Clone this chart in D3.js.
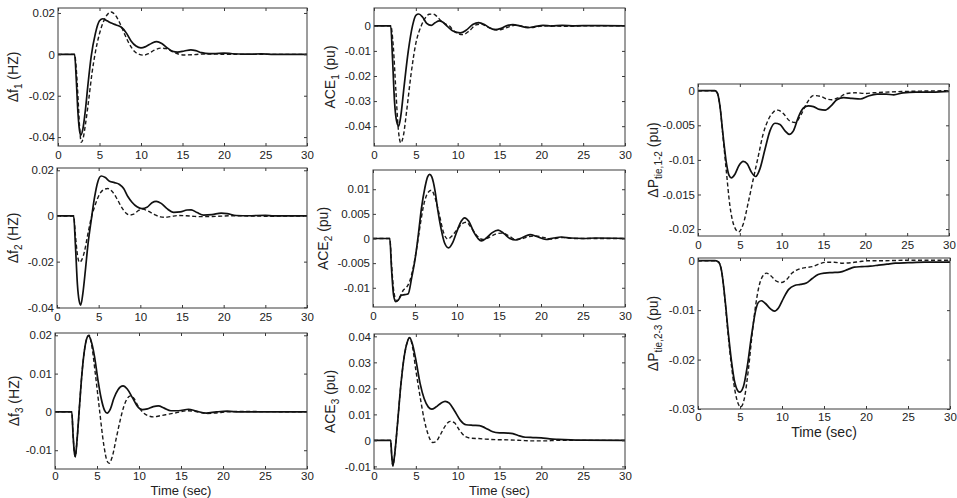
<!DOCTYPE html>
<html><head><meta charset="utf-8">
<script src="https://cdn.jsdelivr.net/npm/d3@7/dist/d3.min.js"></script>
<style>
html,body{margin:0;padding:0;background:#fff;}
text{font-family:"Liberation Sans",Arial,Helvetica,sans-serif;fill:#222;}
</style></head>
<body><svg id="chart" width="957" height="498"></svg>
<script>
// ---------- DATA (time in sec, value) ----------
const timeTicks = [0, 5, 10, 15, 20, 25, 30];

const f1Solid = [[0,0],[2,0],[2.2,-0.012],[2.4,-0.028],[2.6,-0.037],[2.75,-0.039],[3.0,-0.036],[3.3,-0.027],[3.6,-0.015],[4.0,-0.001],[4.5,0.010],[5.0,0.0162],[5.4,0.0172],[5.9,0.0162],[6.5,0.015],[7.0,0.0142],[7.6,0.0132],[8.2,0.0105],[8.8,0.0065],[9.4,0.004],[10.0,0.0031],[10.6,0.0038],[11.3,0.0054],[11.9,0.0061],[12.5,0.0052],[13.2,0.003],[13.8,0.0015],[14.4,0.0011],[15.2,0.0016],[16.0,0.0022],[16.6,0.0018],[17.3,0.0008],[18.2,0.0003],[19.0,0.0004],[20.0,0.0006],[21.0,0.0003],[22.5,0.0001],[24.5,0.0002],[26,0],[30,0]];
const f1Dashed = [[0,0],[2,0],[2.2,-0.007],[2.4,-0.02],[2.6,-0.035],[2.8,-0.0425],[3.0,-0.041],[3.3,-0.034],[3.7,-0.022],[4.1,-0.009],[4.5,0.001],[5.0,0.010],[5.5,0.016],[6.0,0.0195],[6.4,0.0205],[6.9,0.019],[7.4,0.0155],[8.0,0.01],[8.6,0.005],[9.2,0.0015],[9.8,0.0],[10.3,-0.0004],[10.9,0.0003],[11.6,0.002],[12.4,0.003],[13.0,0.0028],[13.7,0.0015],[14.4,0.0003],[15.2,-0.0003],[16.2,-0.0002],[17.2,0.0001],[18.5,0.0002],[20,0],[30,0]];

const ace1Solid = [[0,0],[2,0],[2.2,-0.012],[2.45,-0.03],[2.7,-0.038],[2.95,-0.040],[3.2,-0.036],[3.6,-0.024],[4.1,-0.01],[4.6,0],[5.0,0.0042],[5.35,0.0047],[5.8,0.0035],[6.3,0.001],[6.85,0.0002],[7.3,0.0012],[7.8,0.002],[8.2,0.0015],[8.8,-0.0003],[9.5,-0.0022],[10.3,-0.0028],[11.0,-0.0018],[11.8,0.0005],[12.5,0.0013],[13.2,0.0005],[13.8,-0.0008],[14.4,-0.0015],[15.2,-0.001],[16.0,0.0002],[16.6,0.0005],[17.4,0],[18.4,-0.0007],[19.2,-0.0003],[20.2,0.0002],[21.2,-0.0001],[22.5,0.0002],[24,0],[26,0.0001],[30,0]];
const ace1Dashed = [[0,0],[2,0],[2.3,-0.008],[2.6,-0.025],[2.9,-0.041],[3.2,-0.0467],[3.5,-0.044],[3.9,-0.034],[4.4,-0.02],[5.0,-0.007],[5.65,0],[6.2,0.0035],[6.6,0.0046],[7.05,0.0047],[7.5,0.0038],[8.0,0.002],[8.5,0.0008],[9.0,0.0],[9.6,-0.0022],[10.6,-0.0035],[11.4,-0.002],[12.2,0.0004],[12.8,0.0007],[13.6,-0.0005],[14.8,-0.0017],[15.8,-0.0008],[17.0,0.0003],[17.9,-0.0003],[18.8,-0.0007],[19.8,-0.0002],[21,0],[23,-0.0002],[25,0],[30,0]];

const f2Solid = [[0,0],[2,0],[2.2,-0.012],[2.45,-0.03],[2.65,-0.037],[2.85,-0.039],[3.1,-0.034],[3.4,-0.024],[3.7,-0.013],[4.1,-0.002],[4.5,0.008],[4.9,0.015],[5.3,0.0175],[5.8,0.0168],[6.3,0.0152],[6.9,0.0146],[7.5,0.0138],[8.0,0.012],[8.5,0.0085],[9.0,0.006],[9.6,0.004],[10.2,0.0032],[10.8,0.0038],[11.4,0.0058],[11.9,0.0064],[12.5,0.0055],[13.2,0.0032],[14.0,0.0016],[14.8,0.0018],[15.6,0.0026],[16.1,0.0027],[16.8,0.0015],[17.6,0.0004],[18.6,0.0006],[19.7,0.0012],[20.4,0.001],[21.5,0.0002],[23,0.0001],[25,0.0003],[26,0],[30,0]];
const f2Dashed = [[0,0],[2,0],[2.2,-0.008],[2.45,-0.017],[2.7,-0.0203],[3.0,-0.019],[3.3,-0.0155],[3.7,-0.008],[4.1,-0.001],[4.6,0.005],[5.1,0.0095],[5.6,0.0115],[6.1,0.012],[6.6,0.0108],[7.2,0.0075],[7.8,0.0035],[8.3,0.0012],[8.7,0.0004],[9.2,0.0008],[9.8,0.0024],[10.3,0.003],[10.9,0.0022],[11.6,0.0008],[12.4,-0.0004],[12.9,-0.0006],[13.6,-0.0003],[14.6,0.0002],[15.5,0.0001],[16.5,-0.0002],[17.5,-0.0003],[19,-0.0002],[21,0.0001],[25,-0.0001],[30,0]];

const ace2Solid = [[0,0],[2,0],[2.2,-0.006],[2.45,-0.0115],[2.7,-0.0128],[3.0,-0.0125],[3.4,-0.0115],[3.8,-0.0114],[4.2,-0.0112],[4.6,-0.008],[5.0,-0.0043],[5.4,0.0008],[5.75,0.0059],[6.2,0.0105],[6.5,0.0125],[6.75,0.013],[7.0,0.0125],[7.4,0.0095],[7.7,0.0059],[8.1,0.002],[8.5,-0.0008],[9.0,-0.0019],[9.5,-0.0008],[10.0,0.0015],[10.5,0.0035],[10.9,0.0042],[11.4,0.0035],[12.0,0.0013],[12.5,0.0],[12.9,-0.0005],[13.5,0.0001],[14.2,0.0012],[14.9,0.0017],[15.6,0.001],[16.3,0.0],[17.0,-0.0003],[17.8,0.0002],[18.7,0.0008],[19.5,0.0004],[20.6,-0.0002],[21.5,0.0001],[22.4,0.0003],[23.5,0.0001],[25,0],[26.5,0.0001],[30,0]];
const ace2Dashed = [[0,0],[2,0],[2.2,-0.005],[2.5,-0.011],[2.85,-0.0127],[3.2,-0.0118],[3.6,-0.0105],[4.0,-0.0099],[4.4,-0.0085],[4.8,-0.0058],[5.2,-0.002],[5.6,0.0025],[6.0,0.0065],[6.5,0.0092],[6.95,0.0098],[7.4,0.0082],[7.9,0.0048],[8.4,0.0012],[8.9,-0.0001],[9.4,0.0005],[10.0,0.0018],[10.6,0.003],[11.1,0.0033],[11.7,0.0022],[12.4,0.0005],[13.1,-0.0002],[13.8,0.0002],[14.6,0.0009],[15.4,0.0011],[16.2,0.0005],[17.0,-0.0002],[17.8,0],[18.6,0.0004],[19.4,0.0005],[20.3,0.0002],[21.2,-0.0001],[22.5,0.0002],[24,0],[30,0]];

const f3Solid = [[0,0],[2,0],[2.15,-0.006],[2.3,-0.0105],[2.42,-0.0117],[2.6,-0.008],[2.9,0.001],[3.2,0.0098],[3.5,0.016],[3.8,0.0193],[4.0,0.0199],[4.3,0.0185],[4.7,0.0145],[5.1,0.0085],[5.5,0.0035],[5.9,0.0004],[6.2,-0.0003],[6.6,0.0008],[7.0,0.0035],[7.5,0.0058],[8.1,0.0068],[8.6,0.006],[9.2,0.0038],[9.8,0.0015],[10.4,0.0006],[11.0,0.0008],[11.7,0.0014],[12.3,0.0016],[13.0,0.001],[13.8,0.0003],[14.7,0.0003],[15.9,0.0007],[16.8,0.0002],[18.0,-0.0003],[19.2,0],[20.5,0.0002],[22,0],[25,0],[30,0]];
const f3Dashed = [[0,0],[2,0],[2.15,-0.006],[2.3,-0.0105],[2.42,-0.0117],[2.6,-0.008],[2.9,0.001],[3.2,0.0098],[3.5,0.016],[3.8,0.0193],[4.05,0.02],[4.4,0.017],[4.8,0.01],[5.3,0.0005],[5.8,-0.0085],[6.2,-0.0128],[6.45,-0.0134],[6.8,-0.0118],[7.3,-0.0068],[7.8,-0.0018],[8.2,0.0015],[8.6,0.0035],[9.0,0.0042],[9.4,0.0035],[9.9,0.0015],[10.5,-0.0002],[11.1,-0.001],[11.7,-0.0013],[12.5,-0.001],[13.5,-0.0006],[14.5,-0.0002],[15.7,0.0003],[16.8,0.0001],[18.0,-0.0004],[19.0,-0.0003],[20.5,0],[22,0.0001],[30,0]];

const ace3Solid = [[0,0],[2,0],[2.1,-0.005],[2.25,-0.0098],[2.45,-0.006],[2.8,0.006],[3.2,0.021],[3.6,0.032],[4.0,0.038],[4.25,0.0395],[4.6,0.037],[5.0,0.031],[5.5,0.022],[6.0,0.016],[6.5,0.0128],[6.9,0.012],[7.4,0.0128],[8.0,0.0143],[8.5,0.015],[9.0,0.0143],[9.6,0.0115],[10.3,0.0078],[11.0,0.006],[11.8,0.0058],[12.6,0.0057],[13.3,0.0048],[14.2,0.0033],[15.0,0.0029],[16.0,0.0028],[16.6,0.0026],[17.3,0.0018],[18.1,0.0012],[19.0,0.0011],[20.0,0.001],[21.0,0.0006],[22.0,0.0004],[23.5,0.0002],[25,0.0001],[30,0]];
const ace3Dashed = [[0,0],[2,0],[2.1,-0.005],[2.25,-0.0098],[2.45,-0.006],[2.8,0.006],[3.2,0.021],[3.6,0.032],[4.0,0.038],[4.25,0.0395],[4.6,0.036],[5.0,0.027],[5.5,0.017],[6.0,0.008],[6.5,0.002],[7.0,-0.0008],[7.4,-0.0005],[7.9,0.002],[8.5,0.0055],[9.1,0.0073],[9.6,0.0068],[10.2,0.004],[10.9,0.0015],[11.7,0.0008],[12.5,0.0007],[13.3,0.0005],[14.5,0.0003],[16,0.0002],[17.5,0],[19,-0.0002],[20.3,-0.0002],[22,0],[30,0]];

const tie12Solid = [[0,0],[2,0],[2.3,-0.0003],[2.6,-0.002],[3.0,-0.0065],[3.4,-0.0105],[3.7,-0.0122],[4.0,-0.0126],[4.4,-0.0121],[4.9,-0.0108],[5.4,-0.0102],[5.9,-0.0106],[6.4,-0.0118],[6.9,-0.0124],[7.4,-0.0113],[8.0,-0.0085],[8.6,-0.0058],[9.2,-0.0047],[9.8,-0.0049],[10.4,-0.0058],[10.9,-0.0063],[11.4,-0.0058],[12.0,-0.0038],[12.6,-0.0025],[13.2,-0.0022],[13.8,-0.0023],[14.5,-0.0027],[15.2,-0.0028],[15.9,-0.0022],[16.6,-0.0013],[17.4,-0.001],[18.4,-0.0011],[19.4,-0.0012],[20.3,-0.0008],[21.4,-0.0005],[22.5,-0.0005],[23.4,-0.0006],[24.5,-0.0003],[26,-0.0002],[28,-0.0002],[30,-0.0001]];
const tie12Dashed = [[0,0],[2,0],[2.3,-0.0003],[2.6,-0.002],[3.0,-0.0068],[3.4,-0.0118],[3.8,-0.0165],[4.3,-0.0195],[4.85,-0.0204],[5.4,-0.0193],[6.0,-0.0162],[6.6,-0.0128],[7.2,-0.0095],[7.8,-0.0062],[8.4,-0.0042],[9.0,-0.0031],[9.5,-0.0028],[10.2,-0.0033],[10.9,-0.0043],[11.6,-0.0046],[12.3,-0.0035],[13.0,-0.0018],[13.8,-0.0007],[14.6,-0.0008],[15.4,-0.0012],[16.0,-0.0013],[16.8,-0.001],[17.8,-0.0004],[18.8,-0.0003],[20,-0.0004],[21,-0.0003],[22.5,-0.0002],[25,-0.0001],[30,0]];

const tie23Solid = [[0,0],[2,0],[2.4,-0.0002],[2.8,-0.002],[3.2,-0.0075],[3.6,-0.0145],[4.0,-0.0205],[4.4,-0.0248],[4.95,-0.0266],[5.4,-0.0255],[5.9,-0.021],[6.4,-0.0148],[6.9,-0.0098],[7.2,-0.0084],[7.55,-0.0081],[8.0,-0.0086],[8.6,-0.0097],[9.1,-0.0102],[9.6,-0.0095],[10.2,-0.0075],[10.8,-0.0058],[11.5,-0.005],[12.2,-0.0048],[12.9,-0.0045],[13.6,-0.0036],[14.3,-0.0028],[15.1,-0.0025],[16.0,-0.0024],[16.9,-0.0023],[17.8,-0.0018],[18.6,-0.0013],[19.5,-0.0012],[20.5,-0.0011],[21.5,-0.0009],[22.5,-0.0007],[23.5,-0.0005],[25,-0.0004],[27,-0.0003],[30,-0.0003]];
const tie23Dashed = [[0,0],[2,0],[2.4,-0.0002],[2.8,-0.002],[3.2,-0.0078],[3.6,-0.0152],[4.0,-0.0215],[4.4,-0.0263],[4.8,-0.029],[5.1,-0.0296],[5.5,-0.028],[6.0,-0.022],[6.5,-0.014],[7.0,-0.0075],[7.5,-0.0038],[8.15,-0.0025],[8.7,-0.0031],[9.3,-0.0041],[9.9,-0.0044],[10.5,-0.0039],[11.2,-0.0025],[12.0,-0.0017],[12.8,-0.0014],[13.6,-0.0012],[14.5,-0.0006],[15.3,-0.0003],[16.2,-0.0003],[17.2,-0.0005],[18.2,-0.0004],[19.2,-0.0002],[20.2,0],[22,0],[25,0.0001],[30,0.0001]];

const f1Ticks = [-0.04, -0.02, 0, 0.02];
const ace1Ticks = [-0.04, -0.03, -0.02, -0.01, 0];
const f2Ticks = [-0.04, -0.02, 0, 0.02];
const ace2Ticks = [-0.01, -0.005, 0, 0.005, 0.01];
const f3Ticks = [-0.01, 0, 0.01, 0.02];
const ace3Ticks = [-0.01, 0, 0.01, 0.02, 0.03, 0.04];
const tie12Ticks = [-0.02, -0.015, -0.01, -0.005, 0];
const tie23Ticks = [-0.03, -0.02, -0.01, 0];

// ---------- LAYOUT ----------
const panels = [
  {box:[58,8,307,146],   dom:[-0.0443,0.0224], ticks:f1Ticks,   lab:["\u0394f","1"," (HZ)"], labX:18,  solid:f1Solid,  dashed:f1Dashed},
  {box:[374,8,625,146],  dom:[-0.0479,0.0071], ticks:ace1Ticks, lab:["ACE","1"," (pu)"],   labX:335, solid:ace1Solid, dashed:ace1Dashed},
  {box:[57,168,307,308], dom:[-0.0403,0.0210], ticks:f2Ticks,   lab:["\u0394f","2"," (HZ)"], labX:18,  solid:f2Solid,  dashed:f2Dashed},
  {box:[373,170,625,307],dom:[-0.0139,0.0139], ticks:ace2Ticks, lab:["ACE","2"," (pu)"],   labX:328, solid:ace2Solid, dashed:ace2Dashed},
  {box:[55,333,307,469], dom:[-0.0149,0.0206], ticks:f3Ticks,   lab:["\u0394f","3"," (HZ)"], labX:19,  solid:f3Solid,  dashed:f3Dashed, xlabY:495, pad:3, xfs:13},
  {box:[374,334,625,469],dom:[-0.0110,0.0409], ticks:ace3Ticks, lab:["ACE","3"," (pu)"],   labX:335, solid:ace3Solid, dashed:ace3Dashed, xlabY:495, pad:3, xfs:13},
  {box:[698,84,949,236], dom:[-0.0210,0.00097],ticks:tie12Ticks,lab:["\u0394P","tie,1-2"," (pu)"], labX:658, solid:tie12Solid, dashed:tie12Dashed},
  {box:[698,258,950,409],dom:[-0.0300,0.00055],ticks:tie23Ticks,lab:["\u0394P","tie,2-3"," (pu)"], labX:658, solid:tie23Solid, dashed:tie23Dashed, xlabY:437, pad:4, xfs:14}
];

const svg = d3.select("#chart");
const fmt = d => d === 0 ? "0" : String(+d.toFixed(4));
const axisCol = "#3a3a3a";

panels.forEach(p => {
  const [x0,y0,x1,y1] = p.box;
  const x = d3.scaleLinear().domain([0,30]).range([x0,x1]);
  const y = d3.scaleLinear().domain(p.dom).range([y1,y0]);
  const g = svg.append("g");

  const cid = "clip" + x0 + "_" + y0;
  svg.append("clipPath").attr("id", cid).append("rect")
    .attr("x", x0).attr("y", y0).attr("width", x1-x0).attr("height", y1-y0);

  const line = d3.line().x(d => x(d[0])).y(d => y(d[1])).curve(d3.curveMonotoneX);
  const lg = g.append("g").attr("clip-path", `url(#${cid})`);
  lg.append("path").datum(p.dashed).attr("d", line).attr("fill","none")
    .attr("stroke","#1a1a1a").attr("stroke-width",1.4).attr("stroke-dasharray","4,2.5");
  lg.append("path").datum(p.solid).attr("d", line).attr("fill","none")
    .attr("stroke","#111").attr("stroke-width",1.7);

  const ax = (gen, tr) => {
    const a = g.append("g").attr("transform", tr).call(gen);
    a.select(".domain").remove();
    a.selectAll("line").attr("stroke", axisCol);
    a.selectAll("text").attr("fill","#222").style("font-size","11.5px")
      .style("font-family",'"Liberation Sans",Arial,sans-serif');
    return a;
  };
  ax(d3.axisBottom(x).tickValues(timeTicks).tickSize(-3).tickPadding(p.pad || 5).tickFormat(d3.format("d")), `translate(0,${y1})`);
  ax(d3.axisTop(x).tickValues(timeTicks).tickSize(-3).tickFormat(""), `translate(0,${y0})`);
  ax(d3.axisLeft(y).tickValues(p.ticks).tickSize(-3).tickPadding(3).tickFormat(fmt), `translate(${x0},0)`);
  ax(d3.axisRight(y).tickValues(p.ticks).tickSize(-3).tickFormat(""), `translate(${x1},0)`);

  g.append("rect").attr("x",x0).attr("y",y0).attr("width",x1-x0).attr("height",y1-y0)
    .attr("fill","none").attr("stroke",axisCol).attr("stroke-width",1);

  const cy = (y0+y1)/2;
  const t = g.append("text").attr("transform",`translate(${p.labX},${cy}) rotate(-90)`)
    .attr("text-anchor","middle").style("font-size","14px");
  t.append("tspan").text(p.lab[0]);
  t.append("tspan").attr("dy",4).style("font-size","10px").text(p.lab[1]);
  t.append("tspan").attr("dy",-4).text(p.lab[2]);

  if (p.xlabY) {
    g.append("text").attr("x",(x0+x1)/2).attr("y",p.xlabY).attr("text-anchor","middle")
      .style("font-size", p.xfs + "px").text("Time (sec)");
  }
});
</script></body></html>
